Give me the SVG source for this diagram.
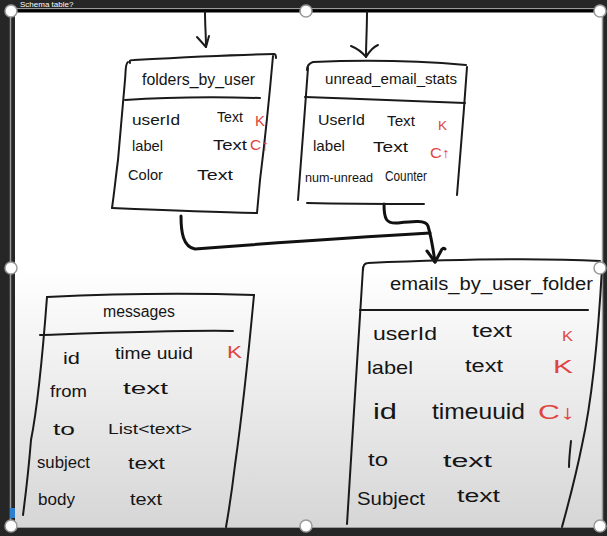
<svg xmlns="http://www.w3.org/2000/svg" width="607" height="536" viewBox="0 0 607 536">
<style>
.ln{fill:none;stroke:#1a1a1a;stroke-width:2;stroke-linecap:round;stroke-linejoin:round}
.cn{fill:none;stroke:#111;stroke-width:3;stroke-linecap:round;stroke-linejoin:round}
.t{font-family:"Liberation Sans","DejaVu Sans",sans-serif;fill:#151515}
.r{font-family:"Liberation Sans","DejaVu Sans",sans-serif;fill:#e0443e}
.h{fill:#fff;stroke:#9a9a9a;stroke-width:1.5}
</style>
<defs>
<linearGradient id="bg" x1="0" y1="12" x2="0" y2="527" gradientUnits="userSpaceOnUse">
<stop offset="0" stop-color="#ffffff"/>
<stop offset="0.5" stop-color="#ffffff"/>
<stop offset="1" stop-color="#d6d6d6"/>
</linearGradient>
</defs>
<rect x="0" y="0" width="607" height="536" fill="#262626"/>
<text x="20" y="7" font-family="Liberation Sans, sans-serif" font-size="8" fill="#ffffff">Schema table?</text>
<rect x="15" y="12" width="587" height="515" fill="url(#bg)"/>
<line x1="10" y1="8.5" x2="603" y2="8.5" stroke="#9a9a9a" stroke-width="1"/>
<line x1="11" y1="11" x2="603" y2="11" stroke="#000" stroke-width="3"/>
<line x1="10.5" y1="11" x2="10.5" y2="526" stroke="#9a9a9a" stroke-width="1.5"/>
<line x1="602.5" y1="11" x2="602.5" y2="527" stroke="#9a9a9a" stroke-width="1.5"/>
<line x1="15" y1="527.5" x2="603" y2="527.5" stroke="#9a9a9a" stroke-width="1"/>
<rect x="10" y="508" width="5" height="10" fill="#2f7fd0"/>

<g id="connectors">
<path class="ln" d="M205,12 C205,25 206,36 206,47"/>
<path class="ln" d="M197,37 L206,47 L209,36"/>
<path class="ln" d="M367,12 C367,28 366,44 366,57"/>
<path class="ln" d="M351,46 C356,48 362,52 366,57 C369,52 373,47 378,45"/>
<path class="cn" d="M181,216 C181,232 183,247 195,249 C260,244 360,237 430,233"/>
<path class="cn" d="M384,204 C384,219 386,224 398,223 C414,221 426,220 428,226 C431,236 433,248 435,262"/>
<path class="cn" d="M427,251 L435,262 L441,251 C442,248 444,248 445,249"/>
</g>

<g id="folders_by_user">
<path class="ln" d="M130,63 C129,60 131,60 134,60 C170,58 225,55 274,54 C276,54 276,56 276,58"/>
<path class="ln" d="M128,62 C125,64 126,70 125,80 L118,160 C116,175 114,195 112,208"/>
<path class="ln" d="M273,56 C270,90 265,140 260,180 L257,213"/>
<path class="ln" d="M112,208 C160,210 210,212 257,213"/>
<path class="ln" d="M125,100 C170,97 220,97 260,98"/>
<text class="t" x="142" y="85" font-size="16" textLength="113" lengthAdjust="spacingAndGlyphs">folders_by_user</text>
<text class="t" x="132" y="125" font-size="15" textLength="48" lengthAdjust="spacingAndGlyphs">userId</text>
<text class="t" x="217" y="122" font-size="14" textLength="26" lengthAdjust="spacingAndGlyphs">Text</text>
<text class="r" x="255" y="126" font-size="14" textLength="10" lengthAdjust="spacingAndGlyphs">K</text>
<text class="t" x="132" y="151" font-size="15" textLength="31" lengthAdjust="spacingAndGlyphs">label</text>
<text class="t" x="213" y="150" font-size="15" textLength="34" lengthAdjust="spacingAndGlyphs">Text</text>
<text class="r" x="250" y="150" font-size="15" textLength="19" lengthAdjust="spacingAndGlyphs">C↑</text>
<text class="t" x="128" y="180" font-size="15" textLength="35" lengthAdjust="spacingAndGlyphs">Color</text>
<text class="t" x="197" y="180" font-size="15" textLength="36" lengthAdjust="spacingAndGlyphs">Text</text>
</g>

<g id="unread_email_stats">
<path class="ln" d="M307,70 C307,65 310,63 313,62 C360,60 420,61 466,65"/>
<path class="ln" d="M308,68 C305,110 301,160 298,200"/>
<path class="ln" d="M467,67 C464,110 460,160 457,195"/>
<path class="ln" d="M307,203 C350,204 390,204 424,204"/>
<path class="ln" d="M305,97 C360,99 420,101 465,103"/>
<text class="t" x="325" y="84" font-size="14" textLength="132" lengthAdjust="spacingAndGlyphs">unread_email_stats</text>
<text class="t" x="318" y="125" font-size="15" textLength="47" lengthAdjust="spacingAndGlyphs">UserId</text>
<text class="t" x="387" y="126" font-size="14" textLength="28" lengthAdjust="spacingAndGlyphs">Text</text>
<text class="r" x="438" y="130" font-size="13" textLength="9" lengthAdjust="spacingAndGlyphs">K</text>
<text class="t" x="313" y="151" font-size="15" textLength="32" lengthAdjust="spacingAndGlyphs">label</text>
<text class="t" x="373" y="152" font-size="15" textLength="35" lengthAdjust="spacingAndGlyphs">Text</text>
<text class="r" x="430" y="158" font-size="14" textLength="20" lengthAdjust="spacingAndGlyphs">C↑</text>
<text class="t" x="305" y="182" font-size="12" textLength="68" lengthAdjust="spacingAndGlyphs">num-unread</text>
<text class="t" x="385" y="181" font-size="14" textLength="42" lengthAdjust="spacingAndGlyphs">Counter</text>
</g>

<g id="messages">
<path class="ln" d="M47,297 C110,294 190,293 254,295"/>
<path class="ln" d="M47,297 C43,350 37,410 31,440 C29,465 26,492 23,515"/>
<path class="ln" d="M254,295 C247,370 240,430 235,465 C232,490 229,510 226,527"/>
<path class="ln" d="M40,335 C100,333 180,330 233,331"/>
<text class="t" x="103" y="317" font-size="16" textLength="72" lengthAdjust="spacingAndGlyphs">messages</text>
<text class="t" x="63" y="364" font-size="17" textLength="17" lengthAdjust="spacingAndGlyphs">id</text>
<text class="t" x="115" y="359" font-size="16" textLength="78" lengthAdjust="spacingAndGlyphs">time uuid</text>
<text class="r" x="227" y="358" font-size="16" textLength="15" lengthAdjust="spacingAndGlyphs">K</text>
<text class="t" x="50" y="397" font-size="16" textLength="37" lengthAdjust="spacingAndGlyphs">from</text>
<text class="t" x="123" y="394" font-size="17" textLength="45" lengthAdjust="spacingAndGlyphs">text</text>
<text class="t" x="53" y="435" font-size="17" textLength="22" lengthAdjust="spacingAndGlyphs">to</text>
<text class="t" x="108" y="434" font-size="15" textLength="84" lengthAdjust="spacingAndGlyphs">List&lt;text&gt;</text>
<text class="t" x="37" y="468" font-size="16" textLength="53" lengthAdjust="spacingAndGlyphs">subject</text>
<text class="t" x="128" y="469" font-size="16" textLength="37" lengthAdjust="spacingAndGlyphs">text</text>
<text class="t" x="38" y="505" font-size="17" textLength="37" lengthAdjust="spacingAndGlyphs">body</text>
<text class="t" x="130" y="505" font-size="16" textLength="32" lengthAdjust="spacingAndGlyphs">text</text>
</g>

<g id="emails_by_user_folder">
<path class="ln" d="M363,270 C363,265 365,263 368,263 C440,260 540,258 600,261"/>
<path class="ln" d="M363,268 C358,350 352,440 347,524"/>
<path class="ln" d="M602,268 C598,340 592,400 582,445 C575,480 568,505 562,527"/>
<path class="ln" d="M571,441 C570,450 569,460 569,467"/>
<path class="ln" d="M360,310 C440,310 520,310 588,310"/>
<text class="t" x="390" y="290" font-size="18" textLength="203" lengthAdjust="spacingAndGlyphs">emails_by_user_folder</text>
<text class="t" x="373" y="340" font-size="19" textLength="64" lengthAdjust="spacingAndGlyphs">userId</text>
<text class="t" x="472" y="337" font-size="18" textLength="40" lengthAdjust="spacingAndGlyphs">text</text>
<text class="r" x="562" y="341" font-size="15" textLength="11" lengthAdjust="spacingAndGlyphs">K</text>
<text class="t" x="367" y="374" font-size="19" textLength="46" lengthAdjust="spacingAndGlyphs">label</text>
<text class="t" x="465" y="372" font-size="18" textLength="38" lengthAdjust="spacingAndGlyphs">text</text>
<text class="r" x="553" y="373" font-size="19" textLength="20" lengthAdjust="spacingAndGlyphs">K</text>
<text class="t" x="373" y="419" font-size="22" textLength="24" lengthAdjust="spacingAndGlyphs">id</text>
<text class="t" x="432" y="419" font-size="22" textLength="93" lengthAdjust="spacingAndGlyphs">timeuuid</text>
<text class="r" x="538" y="419" font-size="20" textLength="37" lengthAdjust="spacingAndGlyphs">C↓</text>
<text class="t" x="368" y="466" font-size="18" textLength="20" lengthAdjust="spacingAndGlyphs">to</text>
<text class="t" x="443" y="467" font-size="18" textLength="49" lengthAdjust="spacingAndGlyphs">text</text>
<text class="t" x="357" y="505" font-size="19" textLength="68" lengthAdjust="spacingAndGlyphs">Subject</text>
<text class="t" x="457" y="502" font-size="18" textLength="43" lengthAdjust="spacingAndGlyphs">text</text>
</g>

<g id="handles">
<circle class="h" cx="11" cy="11" r="6"/>
<circle class="h" cx="306" cy="11" r="6"/>
<circle class="h" cx="600" cy="11" r="6"/>
<circle class="h" cx="11" cy="268" r="6"/>
<circle class="h" cx="600" cy="268" r="6"/>
<circle class="h" cx="11" cy="526" r="6"/>
<circle class="h" cx="306" cy="526" r="6"/>
<circle class="h" cx="600" cy="526" r="6"/>
</g>
</svg>
